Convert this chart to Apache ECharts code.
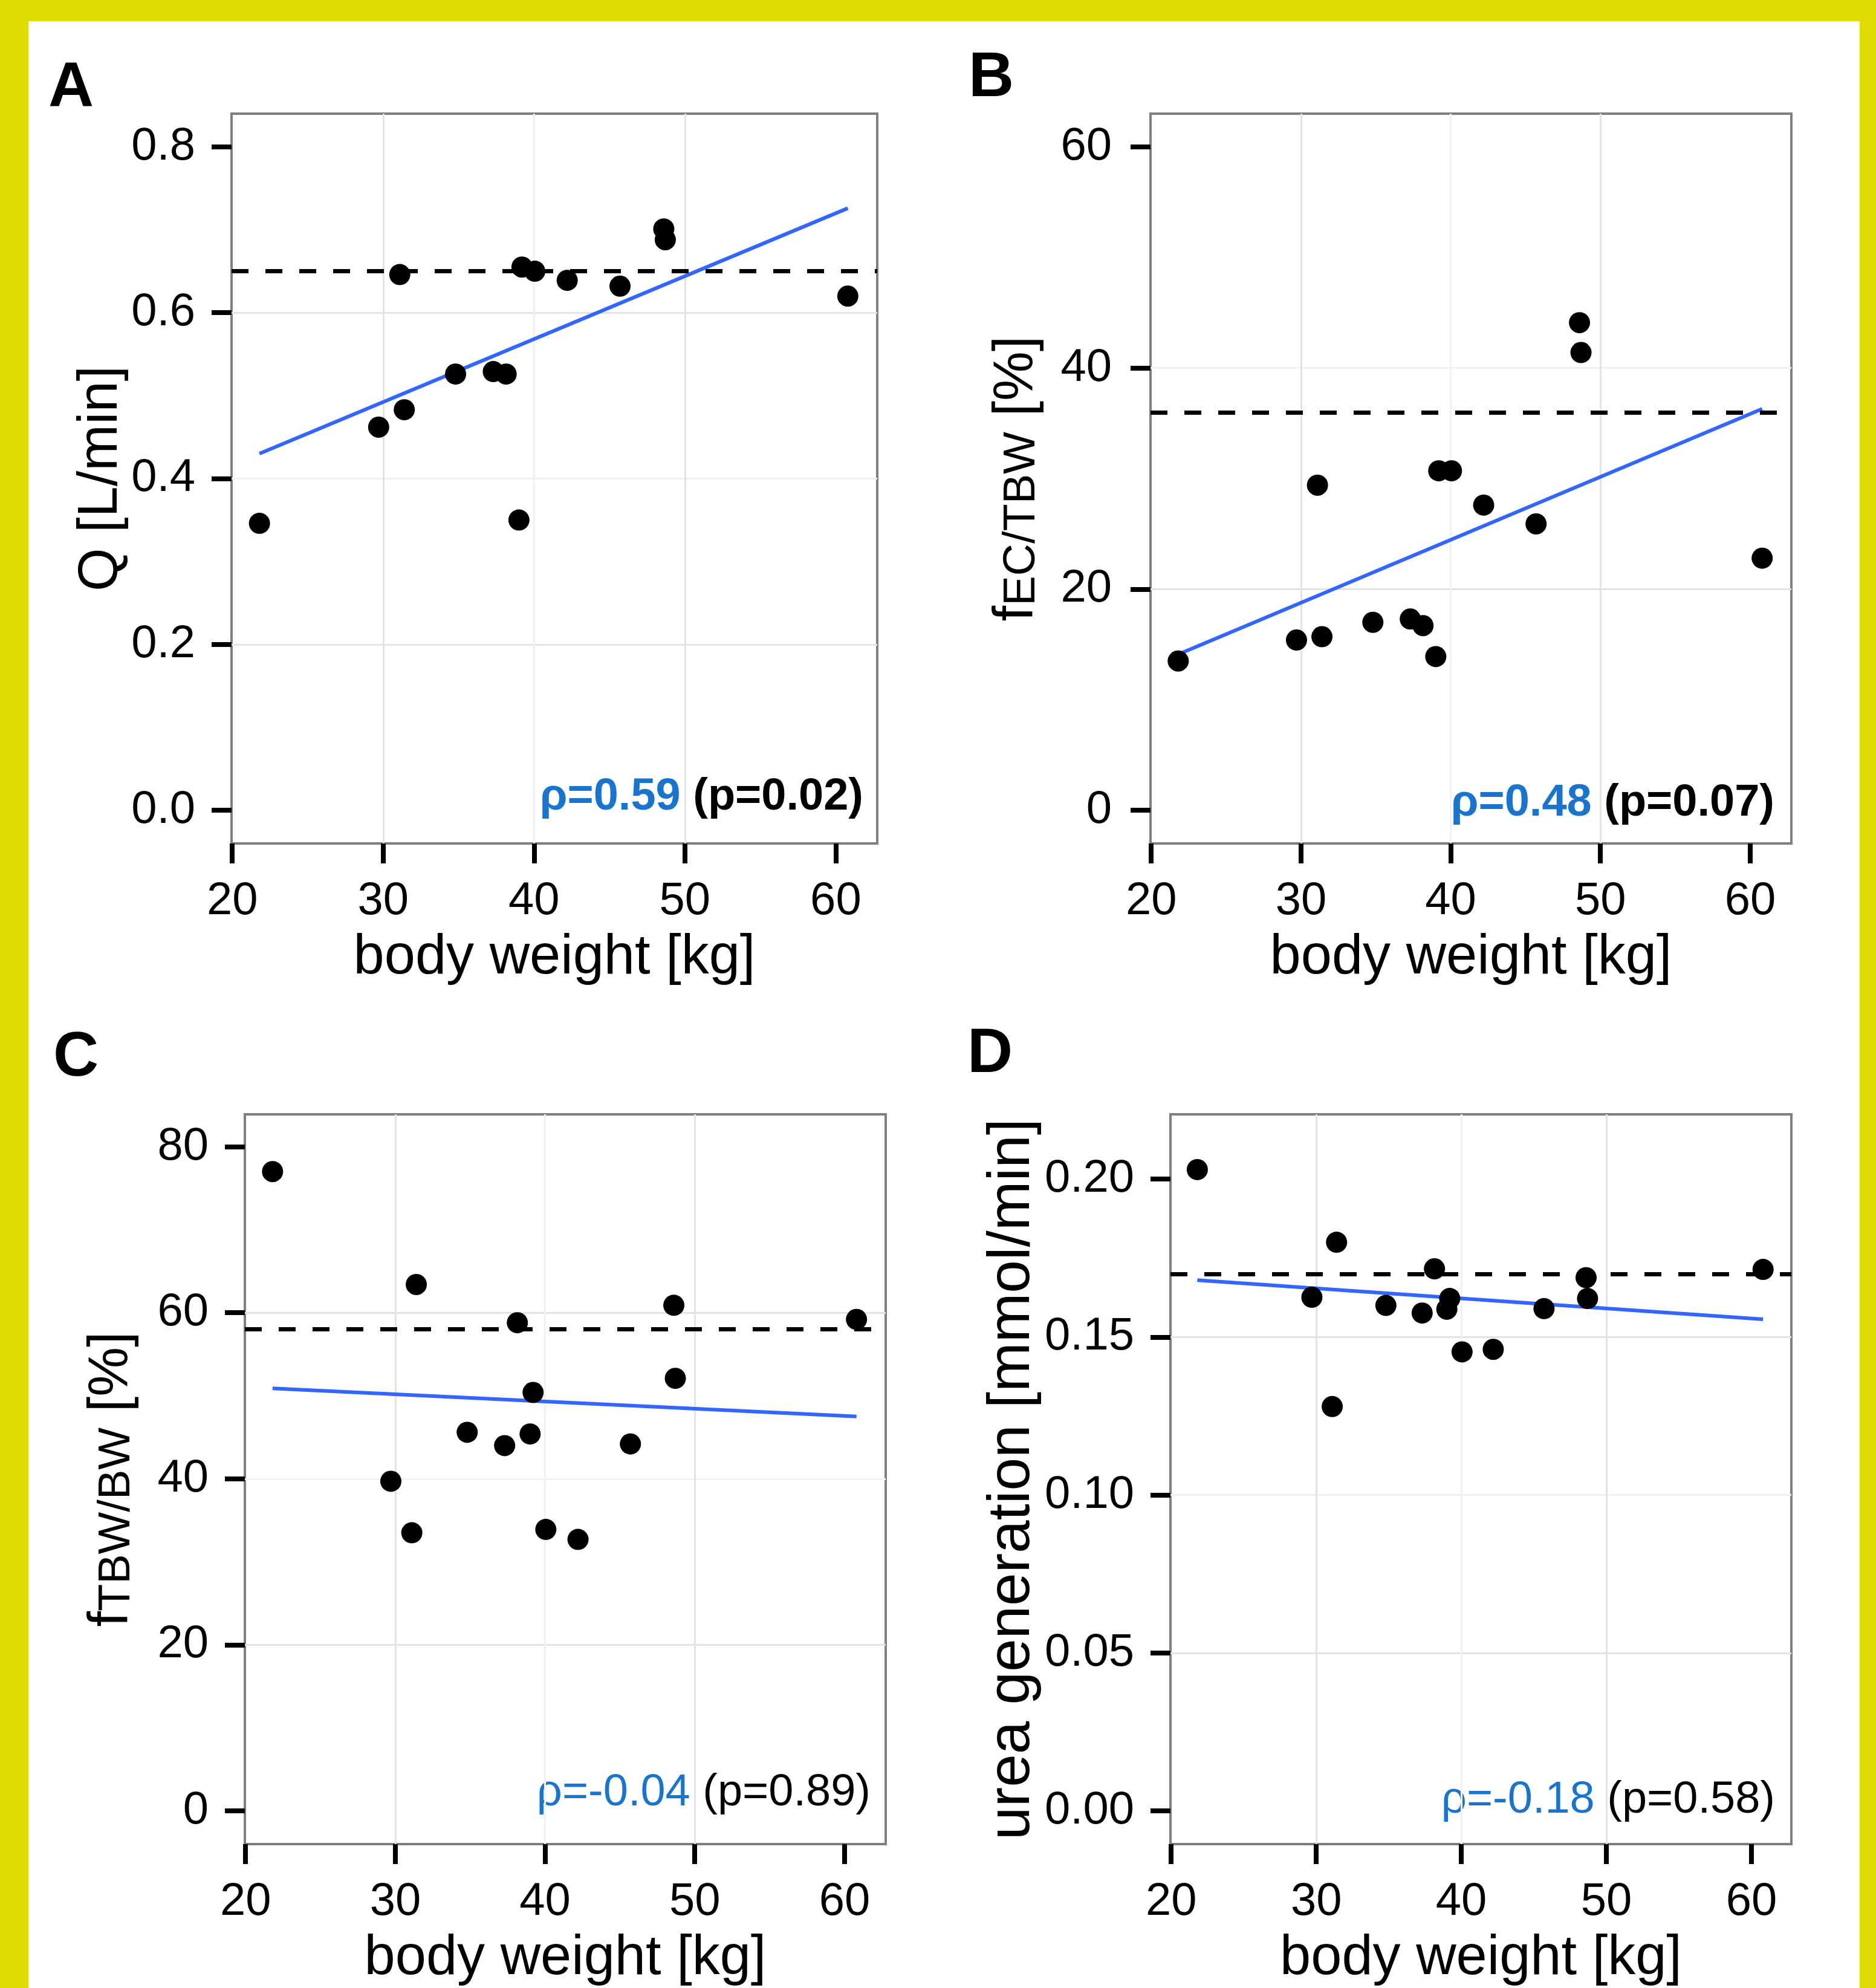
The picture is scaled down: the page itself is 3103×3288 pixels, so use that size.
<!DOCTYPE html>
<html>
<head>
<meta charset="utf-8">
<script src="https://cdn.jsdelivr.net/npm/echarts@6/dist/echarts.min.js"></script>
<style>
  html, body { margin: 0; padding: 0; background: #dedc00; }
  #frame { position: absolute; left: 47px; top: 35px; width: 3029px; height: 3253px; background: #fff; }
  #chart { position: absolute; left: 0; top: 0; width: 3103px; height: 3288px; }
</style>
</head>
<body>
<div id="frame"></div>
<div id="chart"></div>
<script>
    // body weight of the 15 subjects (shared x for all panels)
    const bodyWeight = [21.8, 29.7, 31.1, 31.4, 34.8, 37.3, 38.15, 39.0, 39.2, 40.05, 42.2, 45.7, 48.6, 48.7, 60.8];

    // A: Q [L/min]
    const qFlow = [0.346, 0.462, 0.646, 0.483, 0.526, 0.529, 0.526, 0.350, 0.655, 0.650, 0.639, 0.632, 0.701, 0.688, 0.620];
    // B: f EC/TBW [%]
    const fEcTbw = [13.5, 15.4, 29.4, 15.7, 17.0, 17.3, 16.7, 13.9, 30.7, 30.7, 27.6, 25.9, 44.1, 41.4, 22.8];
    // C: f TBW/BW [%]
    const fTbwBw = [77.0, 39.7, 33.5, 63.4, 45.6, 44.0, 58.8, 45.4, 50.4, 33.9, 32.7, 44.2, 60.9, 52.1, 59.2];
    // D: urea generation [mmol/min]
    const ureaGen = [0.203, 0.1626, 0.128, 0.180, 0.160, 0.1576, 0.1716, 0.1588, 0.1622, 0.1453, 0.1461, 0.159, 0.1688, 0.1622, 0.1714];

    // regression line end points
    const fitA = [[21.8, 0.430], [60.8, 0.726]];
    const fitB = [[21.8, 14.1], [60.8, 36.3]];
    const fitC = [[21.8, 50.9], [60.8, 47.5]];
    const fitD = [[21.8, 0.168], [60.8, 0.1556]];

    // dashed reference levels
    const refLevels = [0.65, 36, 58, 0.17];

    // tick labels
    const xTicks = [20, 30, 40, 50, 60];
    const yTicksA = [0, 0.2, 0.4, 0.6, 0.8];
    const yTicksB = [0, 20, 40, 60];
    const yTicksC = [0, 20, 40, 60, 80];
    const yTicksD = [0, 0.05, 0.10, 0.15, 0.20];

    // annotation texts
    const rhoTexts = ['ρ=0.59', 'ρ=0.48', 'ρ=-0.04', 'ρ=-0.18'];
    const pTexts = [' (p=0.02)', ' (p=0.07)', ' (p=0.89)', ' (p=0.58)'];
    const panelLetters = ['A', 'B', 'C', 'D'];

    const FONT = '"Liberation Sans", Arial, Helvetica, sans-serif';
    const MAJOR = '#e2e2e2';
    const MINOR = '#f2f2f2';
    const RHO_BLUE = '#1874cd';

    const grids = [
        { left: 383, top: 188, width: 1068, height: 1207 },
        { left: 1903, top: 188, width: 1060, height: 1207 },
        { left: 405, top: 1843, width: 1060, height: 1207 },
        { left: 1936, top: 1843, width: 1027, height: 1207 }
    ];

    const panels = [
        { ys: qFlow, fit: fitA, ticks: yTicksA, min: -0.04, max: 0.84, half: 0.1, digits: 1,
          name: 'Q [L/min]', nameGap: 166, labelMargin: 60, nameSize: 92, bold: true },
        { ys: fEcTbw, fit: fitB, ticks: yTicksB, min: -3, max: 63, half: 10, digits: 0,
          name: 'f{s|EC/TBW} [%]', nameGap: 175, labelMargin: 64, nameSize: 92, bold: true },
        { ys: fTbwBw, fit: fitC, ticks: yTicksC, min: -4, max: 83.9, half: 10, digits: 0,
          name: 'f{s|TBW/BW} [%]', nameGap: 174, labelMargin: 60, nameSize: 92, bold: false },
        { ys: ureaGen, fit: fitD, ticks: yTicksD, min: -0.0105, max: 0.2205, half: 0.025, digits: 2,
          name: 'urea generation [mmol/min]', nameGap: 202, labelMargin: 60, nameSize: 98, bold: false }
    ];

    // annotation anchor: right edge and text baseline (px)
    const notePos = [[1428, 1345], [2935, 1355], [1440, 2992], [2936, 3004]];
    // panel letter anchor: left edge and cap centre (px)
    const letterPos = [[80, 146], [1602, 130], [88, 1750], [1600, 1744]];

    const xAxes = [], yAxes = [], series = [], graphics = [];

    panels.forEach((p, i) => {
        xAxes.push({
            type: 'value', gridIndex: i, min: 19.95, max: 62.75,
            minInterval: 5, maxInterval: 5,
            name: 'body weight [kg]', nameLocation: 'middle', nameGap: 144,
            nameTextStyle: { fontSize: 92, color: '#000', fontFamily: FONT },
            axisLine: { show: false, onZero: false },
            axisTick: { show: true, customValues: xTicks, length: 33, lineStyle: { color: '#000', width: 8 } },
            axisLabel: { customValues: xTicks, margin: 58, fontSize: 76, color: '#000', fontFamily: FONT },
            splitLine: { show: true, showMinLine: false, showMaxLine: false, lineStyle: { color: [MAJOR, MINOR], width: 3 } }
        });
        yAxes.push({
            type: 'value', gridIndex: i, min: p.min, max: p.max,
            minInterval: p.half, maxInterval: p.half,
            name: p.name, nameLocation: 'middle', nameRotate: 90, nameGap: p.nameGap,
            nameTextStyle: {
                fontSize: p.nameSize, lineHeight: p.nameSize, color: '#000', fontFamily: FONT,
                rich: { s: { fontSize: 74, lineHeight: 44, verticalAlign: 'bottom', color: '#000', fontFamily: FONT } }
            },
            axisLine: { show: false, onZero: false },
            axisTick: { show: true, customValues: p.ticks, length: 33, lineStyle: { color: '#000', width: 8 } },
            axisLabel: {
                customValues: p.ticks, margin: p.labelMargin, fontSize: 76, color: '#000', fontFamily: FONT,
                formatter: v => v.toFixed(p.digits)
            },
            splitLine: { show: true, showMinLine: false, showMaxLine: false, lineStyle: { color: [MAJOR, MINOR], width: 3 } }
        });

        series.push({
            type: 'line', xAxisIndex: i, yAxisIndex: i,
            data: p.fit, symbol: 'none', silent: true, z: 3,
            lineStyle: { color: '#3366ff', width: 6 }
        });
        series.push({
            type: 'scatter', xAxisIndex: i, yAxisIndex: i,
            data: bodyWeight.map((w, k) => [w, p.ys[k]]),
            symbol: 'circle', symbolSize: 35, silent: true, z: 4,
            itemStyle: { color: '#000', opacity: 1 },
            markLine: {
                silent: true, symbol: ['none', 'none'], label: { show: false },
                emphasis: { disabled: true },
                lineStyle: { color: '#000', type: [28, 28], width: 7 },
                data: [{ yAxis: refLevels[i] }]
            }
        });

        const weight = p.bold ? 'bold' : 'normal';
        graphics.push({
            type: 'text', x: notePos[i][0], y: notePos[i][1] - 26, silent: true,
            style: {
                text: '{r|' + rhoTexts[i] + '}' + pTexts[i],
                fill: '#000', fontSize: 74, fontWeight: weight, fontFamily: FONT,
                align: 'right', verticalAlign: 'middle',
                rich: { r: { fill: RHO_BLUE, fontSize: 74, fontWeight: weight, fontFamily: FONT } }
            }
        });
        graphics.push({
            type: 'text', x: letterPos[i][0], y: letterPos[i][1], silent: true,
            style: {
                text: panelLetters[i], fill: '#000', fontSize: 104, fontWeight: 'bold', fontFamily: FONT,
                align: 'left', verticalAlign: 'middle'
            }
        });
    });

    const myChart = echarts.init(document.getElementById('chart'), null, { renderer: 'canvas' });
    const option = {
        animation: false,
        backgroundColor: 'transparent',
        grid: grids.map(g => Object.assign({
            show: true, backgroundColor: '#fff', borderColor: '#7f7f7f', borderWidth: 4, containLabel: false
        }, g)),
        xAxis: xAxes,
        yAxis: yAxes,
        series: series,
        graphic: graphics
    };
    myChart.setOption(option);
</script>
</body>
</html>
